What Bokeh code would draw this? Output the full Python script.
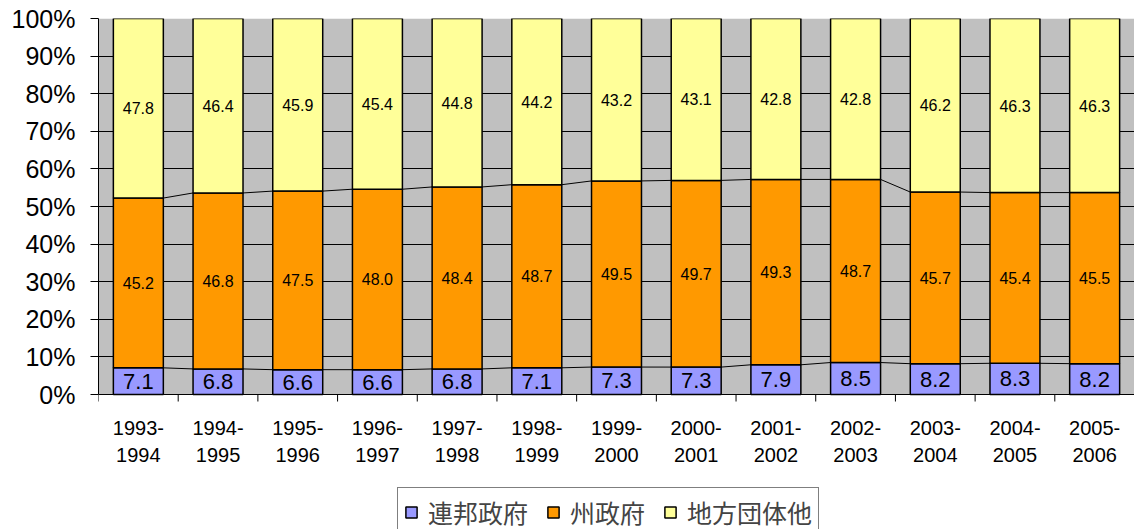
from bokeh.plotting import figure
from bokeh.models import (ColumnDataSource, Range1d, FixedTicker, NumeralTickFormatter,
                          Legend, LegendItem)
from bokeh.embed import file_html
from bokeh.resources import INLINE
from bokeh.core.properties import value

# Share of spending by level of government (percent)
periods = ["1993-1994", "1994-1995", "1995-1996", "1996-1997", "1997-1998",
           "1998-1999", "1999-2000", "2000-2001", "2001-2002", "2002-2003",
           "2003-2004", "2004-2005", "2005-2006"]
federal = [7.1, 6.8, 6.6, 6.6, 6.8, 7.1, 7.3, 7.3, 7.9, 8.5, 8.2, 8.3, 8.2]
state = [45.2, 46.8, 47.5, 48.0, 48.4, 48.7, 49.5, 49.7, 49.3, 48.7, 45.7, 45.4, 45.5]
local = [47.8, 46.4, 45.9, 45.4, 44.8, 44.2, 43.2, 43.1, 42.8, 42.8, 46.2, 46.3, 46.3]
series_names = ["連邦政府", "州政府", "地方団体他"]
colors = ["#9999FF", "#FF9900", "#FFFF99"]

FONT = "Liberation Sans"
n = len(periods)
bar_w = 0.627

# layout in pixels: plot area 376 px tall, 135 px of room below it
PLOT_H = 376.0
BELOW = 135.0
px = 1.0 / PLOT_H          # one pixel in y data units

totals = [f + s + l for f, s, l in zip(federal, state, local)]
fed_sh = [f / t for f, t in zip(federal, totals)]
st_sh = [s / t for s, t in zip(state, totals)]
lo_sh = [l / t for l, t in zip(local, totals)]
xs = [i + 0.5 for i in range(n)]

src = ColumnDataSource(dict(
    x=xs, fed=fed_sh, st=st_sh, lo=lo_sh,
    fed_y=[f / 2 for f in fed_sh],
    st_y=[f + s / 2 for f, s in zip(fed_sh, st_sh)],
    lo_y=[f + s + l / 2 for f, s, l in zip(fed_sh, st_sh, lo_sh)],
    fed_t=[f"{v:.1f}" for v in federal],
    st_t=[f"{v:.1f}" for v in state],
    lo_t=[f"{v:.1f}" for v in local],
))

p = figure(width=1134, height=529, x_range=Range1d(0, n),
           y_range=Range1d(-BELOW * px, 1), x_axis_location=None,
           output_backend="svg", toolbar_location=None,
           min_border_left=98, min_border_right=0, min_border_top=18, min_border_bottom=0)
p.background_fill_color = "white"
p.border_fill_color = "white"
p.outline_line_color = None

# grey plot area behind everything
p.quad(left=0, right=n, bottom=0, top=1, fill_color="#C0C0C0", line_color=None, level="image")

# horizontal gridlines every 10%
yticks = [i / 10 for i in range(11)]
p.ygrid.ticker = FixedTicker(ticks=yticks)
p.ygrid.bounds = (0, 1)
p.ygrid.grid_line_color = "black"
p.ygrid.grid_line_width = 1
p.xgrid.grid_line_color = None

bars = p.vbar_stack(["fed", "st", "lo"], x="x", width=bar_w, source=src,
                    fill_color=colors, line_color="black", line_width=1.5)

# series lines joining the segment tops of neighbouring bars
b1 = fed_sh
b2 = [f + s for f, s in zip(fed_sh, st_sh)]
seg = ColumnDataSource(dict(
    x0=[xs[i] + bar_w / 2 for i in range(n - 1)] * 2,
    x1=[xs[i + 1] - bar_w / 2 for i in range(n - 1)] * 2,
    y0=b1[:-1] + b2[:-1],
    y1=b1[1:] + b2[1:],
))
p.segment(x0="x0", y0="y0", x1="x1", y1="y1", source=seg, line_color="black", line_width=1)

# value labels
p.text(x="x", y="fed_y", text="fed_t", source=src, text_align="center", text_baseline="middle",
       text_font=value(FONT), text_font_size="22px", text_color="black")
p.text(x="x", y="st_y", text="st_t", source=src, text_align="center", text_baseline="middle",
       text_font=value(FONT), text_font_size="16px", text_color="black")
p.text(x="x", y="lo_y", text="lo_t", source=src, text_align="center", text_baseline="middle",
       text_font=value(FONT), text_font_size="16px", text_color="black")

# y axis
p.yaxis.ticker = FixedTicker(ticks=yticks)
p.yaxis.bounds = (0, 1)
p.yaxis.formatter = NumeralTickFormatter(format="0%")
p.yaxis.major_label_text_font = FONT
p.yaxis.major_label_text_font_size = "25px"
p.yaxis.major_label_text_color = "black"
p.yaxis.major_tick_out = 8
p.yaxis.major_tick_in = 0
p.yaxis.minor_tick_line_color = None
p.yaxis.major_label_standoff = 15
p.yaxis.axis_line_color = "black"
p.yaxis.major_tick_line_color = "black"

# category axis along 0%: tick marks at the boundaries, two-line labels under each bar
bounds_x = list(range(n + 1))
p.segment(x0=bounds_x, x1=bounds_x, y0=[0] * (n + 1), y1=[-7 * px] * (n + 1),
          line_color="black", line_width=1)
lab = ColumnDataSource(dict(
    x=xs + xs,
    y=[-33 * px] * n + [-60 * px] * n,
    t=[per.split("-")[0] + "-" for per in periods] + [per.split("-")[1] for per in periods],
))
p.text(x="x", y="y", text="t", source=lab, text_align="center", text_baseline="middle",
       text_font=value(FONT), text_font_size="20px", text_color="black")

legend = Legend(
    items=[LegendItem(label=nm, renderers=[r]) for nm, r in zip(series_names, bars)],
    orientation="horizontal", location=(299, -8),
    label_text_font="Noto Sans CJK JP", label_text_font_size="25px",
    glyph_width=14, glyph_height=14, label_standoff=10, spacing=18,
    padding=6, margin=0, border_line_color="black", border_line_width=1.5,
    background_fill_color="white", background_fill_alpha=1,
)
p.add_layout(legend)

open("out.html", "w").write(file_html(p, INLINE))
